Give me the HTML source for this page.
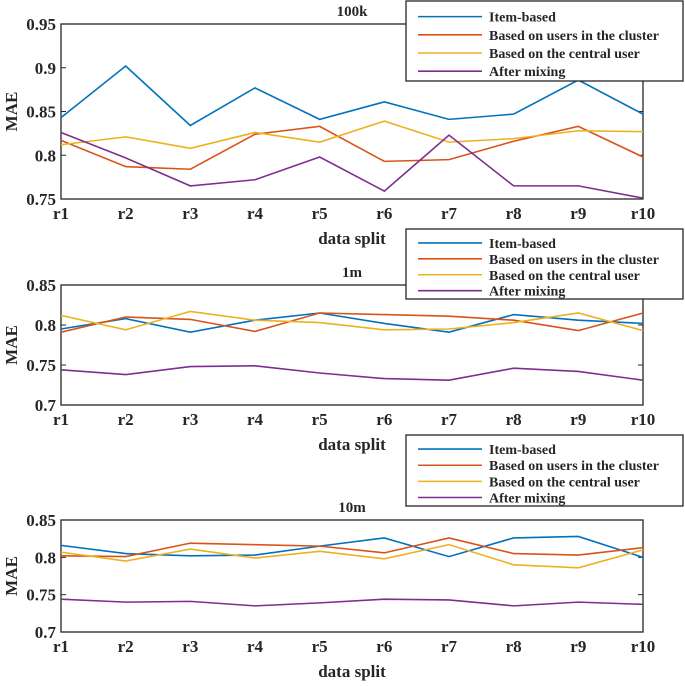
<!DOCTYPE html>
<html><head><meta charset="utf-8"><style>
body{margin:0;background:#fff}
svg text{font-family:"Liberation Serif",serif;font-weight:bold;fill:#262626}
</style></head><body>
<svg id="chart" width="685" height="682" viewBox="0 0 685 682" xmlns="http://www.w3.org/2000/svg"></svg>
<script>
const categories=["r1","r2","r3","r4","r5","r6","r7","r8","r9","r10"];
const seriesNames=["Item-based","Based on users in the cluster","Based on the central user","After mixing"];
const colors=["#0072BD","#D95319","#EDB120","#7E2F8E"];
const p1Item=[.843,.902,.834,.877,.841,.861,.841,.847,.886,.847];
const p1Cluster=[.817,.787,.784,.824,.833,.793,.795,.816,.833,.798];
const p1Central=[.812,.821,.808,.826,.815,.839,.815,.819,.828,.827];
const p1Mix=[.826,.797,.765,.772,.798,.759,.823,.765,.765,.751];
const p2Item=[.795,.808,.791,.806,.815,.802,.791,.813,.806,.802];
const p2Cluster=[.791,.810,.807,.792,.815,.813,.811,.806,.793,.815];
const p2Central=[.812,.794,.817,.806,.803,.794,.795,.803,.815,.793];
const p2Mix=[.744,.738,.748,.749,.740,.733,.731,.746,.742,.731];
const p3Item=[.816,.805,.802,.803,.815,.826,.801,.826,.828,.800];
const p3Cluster=[.802,.801,.819,.817,.815,.806,.826,.805,.803,.813];
const p3Central=[.807,.795,.811,.799,.808,.798,.817,.790,.786,.810];
const p3Mix=[.744,.740,.741,.735,.739,.744,.743,.735,.740,.737];
const p1Ticks=["0.75","0.8","0.85","0.9","0.95"];
const p2Ticks=["0.7","0.75","0.8","0.85"];
const p3Ticks=["0.7","0.75","0.8","0.85"];
const panels=[
 {name:"100k",series:[p1Item,p1Cluster,p1Central,p1Mix],ticks:p1Ticks,min:.75,max:.95,top:24,bot:199,legY:0,legH:80},
 {name:"1m",series:[p2Item,p2Cluster,p2Central,p2Mix],ticks:p2Ticks,min:.7,max:.85,top:285,bot:405,legY:228,legH:70},
 {name:"10m",series:[p3Item,p3Cluster,p3Central,p3Mix],ticks:p3Ticks,min:.7,max:.85,top:520,bot:632,legY:434,legH:71}
];
const NS="http://www.w3.org/2000/svg";
const svg=document.getElementById('chart');
const L=61,R=643;
function mk(t,a,parent){const e=document.createElementNS(NS,t);for(const k in a)e.setAttribute(k,a[k]);(parent||svg).appendChild(e);return e;}
panels.forEach((p,pi)=>{
 const g=mk('g',{});
 
 
 const x=i=>L+(R-L)*i/(categories.length-1);
 const y=v=>p.bot-(v-p.min)/(p.max-p.min)*(p.bot-p.top);
 mk('rect',{x:L,y:p.top,width:R-L,height:p.bot-p.top,fill:'#fff',stroke:'#262626','stroke-width':1.3},g);
 p.ticks.forEach(t=>{const v=parseFloat(t),yy=y(v);
  mk('line',{x1:L,x2:L+5,y1:yy,y2:yy,stroke:'#262626'},g);mk('line',{x1:R-5,x2:R,y1:yy,y2:yy,stroke:'#262626'},g);
  const tx=mk('text',{x:L-5,y:yy+6,'text-anchor':'end','font-size':17},g);tx.textContent=t;
  
  });
 categories.forEach((c,i)=>{const tx=mk('text',{x:x(i),y:p.bot+20,'text-anchor':'middle','font-size':17},g);tx.textContent=c;
  
  });
 const xt=mk('text',{x:352,y:p.bot+45,'text-anchor':'middle','font-size':17},g);xt.textContent='data split';
 
 
 const yt=mk('text',{x:0,y:0,'text-anchor':'middle','font-size':17,transform:`translate(17,${(p.top+p.bot)/2}) rotate(-90)`},g);yt.textContent='MAE';
 
 
 const ti=mk('text',{x:352,y:p.top-8,'text-anchor':'middle','font-size':15},g);ti.textContent=p.name;
 
 
 p.series.forEach((s,si)=>{const pl=mk('polyline',{points:s.map((v,i)=>x(i)+','+y(v)).join(' '),fill:'none',stroke:colors[si],'stroke-width':1.6},g);
  
  });
 const lg=mk('g',{},g);
 
 
 mk('rect',{x:406,y:p.legY+1,width:277,height:p.legH,fill:'#fff',stroke:'#262626','stroke-width':1.3},lg);
 const step=p.legH/4.4;
 seriesNames.forEach((n,si)=>{const yy=p.legY+step*(si+0.75)+3;
  mk('line',{x1:418,x2:482,y1:yy,y2:yy,stroke:colors[si],'stroke-width':1.6},lg);
  const tx=mk('text',{x:489,y:yy+5,'font-size':14},lg);tx.textContent=n;
  
  });
});
</script>
</body></html>
